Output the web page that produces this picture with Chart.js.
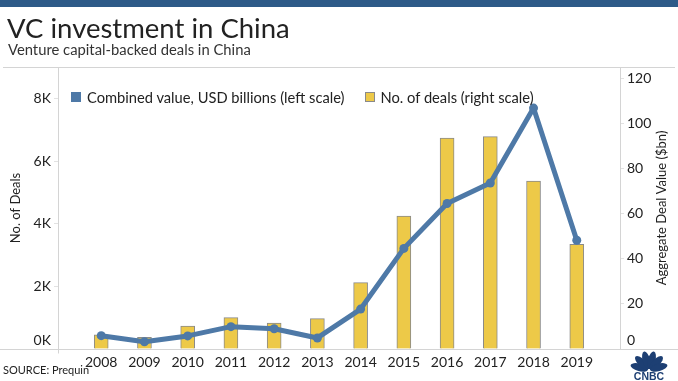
<!DOCTYPE html>
<html>
<head>
<meta charset="utf-8">
<script src="https://cdn.jsdelivr.net/npm/chart.js@4.4.1/dist/chart.umd.min.js"></script>
<style>
  html, body { margin: 0; padding: 0; background: #fff; }
  body { width: 678px; height: 381px; position: relative; overflow: hidden; font-family: Lato, "Open Sans", sans-serif; color: #222; }
  .topbar { position: absolute; left: 0; top: 0; width: 678px; height: 7px; background: #2d5a88; }
  .title { position: absolute; left: 7px; top: 14px; font-size: 27.5px; line-height: 27px; white-space: nowrap; }
  .subtitle { position: absolute; left: 8px; top: 42px; font-size: 14.8px; line-height: 15px; color: #333; white-space: nowrap; }
  .source { position: absolute; left: 3px; top: 364px; font-size: 11px; line-height: 11px; white-space: nowrap; }
  .logo { position: absolute; left: 626px; top: 350px; }
  canvas { position: absolute; left: 0; top: 0; }
  #legend { position: absolute; left: 71px; top: 89px; display: flex; font-size: 14.7px; line-height: 16px; white-space: nowrap; }
  #legend .item { display: flex; align-items: center; margin-right: 20px; }
  #legend .box { width: 10px; height: 10px; margin-right: 6px; box-sizing: border-box; }
</style>
</head>
<body>
<div class="topbar"></div>
<canvas id="chart" width="678" height="381"></canvas>
<div class="title">VC investment in China</div>
<div class="subtitle">Venture capital-backed deals in China</div>
<div id="legend"></div>
<div class="source">SOURCE: Prequin</div>
<svg class="logo" width="46" height="31" viewBox="0 0 46 31">
  <g fill="#1d3f73">
    <ellipse cx="13.3" cy="17.4" rx="3.8" ry="9" transform="rotate(-75 13.3 17.4)"/>
    <ellipse cx="15.9" cy="12.9" rx="3.8" ry="9" transform="rotate(-45 15.9 12.9)"/>
    <ellipse cx="20.4" cy="10.3" rx="3.8" ry="9" transform="rotate(-15 20.4 10.3)"/>
    <ellipse cx="25.6" cy="10.3" rx="3.8" ry="9" transform="rotate(15 25.6 10.3)"/>
    <ellipse cx="30.1" cy="12.9" rx="3.8" ry="9" transform="rotate(45 30.1 12.9)"/>
    <ellipse cx="32.7" cy="17.4" rx="3.8" ry="9" transform="rotate(75 32.7 17.4)"/>
  </g>
  <text x="23" y="30" text-anchor="middle" font-family="'Liberation Sans', Arial, sans-serif" font-weight="bold" font-size="10.5" fill="#1d3f73">CNBC</text>
</svg>
<script>
// values
const years = [2008, 2009, 2010, 2011, 2012, 2013, 2014, 2015, 2016, 2017, 2018, 2019]
const dealCounts = [450, 370, 730, 1000, 830, 970, 2120, 4240, 6730, 6780, 5360, 3340]
const dealValues = [5.9, 3.2, 5.8, 9.9, 9.0, 4.9, 17.7, 44.6, 64.5, 73.6, 106.8, 48.2]
const dealTicks = [0, 2000, 4000, 6000, 8000]
const valueTicks = [0, 20, 40, 60, 80, 100, 120]

const valueName = 'Combined value, USD billions (left scale)'
const dealsName = 'No. of deals (right scale)'
const leftTitle = 'No. of Deals'
const rightTitle = 'Aggregate Deal Value ($bn)'

const lineBlue = '#4e79a7'
const barYellow = '#edc948'
const barEdge = '#8a8a8a'
const textColor = '#222'

// legend as plain html, it sits inside the plot area at the top left
const legendItems = [
  { name: valueName, fill: lineBlue, edge: lineBlue },
  { name: dealsName, fill: barYellow, edge: barEdge }
]
document.getElementById('legend').innerHTML = legendItems.map(it =>
  `<span class="item"><span class="box" style="background:${it.fill};border:1px solid ${it.edge}"></span>${it.name}</span>`
).join('')

// thin frame lines: full width rules at top and bottom of the plot, plus the two axis lines
const frameLines = {
  id: 'frameLines',
  beforeDatasetsDraw(chart) {
    const { ctx, chartArea: a, width } = chart
    const top = Math.round(a.top) + 0.5
    const bottom = Math.round(a.bottom) + 0.5
    const left = Math.round(a.left) + 0.5
    const right = Math.round(a.right) + 0.5
    ctx.save()
    ctx.strokeStyle = '#d4d4d4'
    ctx.lineWidth = 1
    ctx.beginPath()
    ctx.moveTo(3, top); ctx.lineTo(width - 3, top)
    ctx.moveTo(0, bottom); ctx.lineTo(width, bottom)
    ctx.moveTo(left, top); ctx.lineTo(left, bottom + 4)
    ctx.moveTo(right, top); ctx.lineTo(right, bottom)
    ctx.stroke()
    ctx.restore()
  }
}

// right axis title reads bottom to top like the left one
const rightAxisTitle = {
  id: 'rightAxisTitle',
  afterDraw(chart) {
    const { ctx, chartArea: a } = chart
    ctx.save()
    ctx.translate(a.right + 42, (a.top + a.bottom) / 2)
    ctx.rotate(-Math.PI / 2)
    ctx.textAlign = 'center'
    ctx.textBaseline = 'middle'
    ctx.fillStyle = textColor
    ctx.font = '13px Lato, "Open Sans", sans-serif'
    ctx.fillText(rightTitle, 0, 0)
    ctx.restore()
  }
}

const tickFont = { family: 'Lato, "Open Sans", sans-serif', size: 14 }
const titleFont = { family: 'Lato, "Open Sans", sans-serif', size: 13 }

new Chart(document.getElementById('chart'), {
  type: 'bar',
  data: {
    datasets: [
      {
        type: 'line',
        label: valueName,
        data: years.map((y, i) => ({ x: y, y: dealValues[i] })),
        yAxisID: 'yValue',
        borderColor: lineBlue,
        backgroundColor: lineBlue,
        borderWidth: 5,
        borderJoinStyle: 'round',
        borderCapStyle: 'round',
        pointRadius: 4.5,
        pointBorderWidth: 0,
        pointBackgroundColor: lineBlue,
        tension: 0,
        order: 0
      },
      {
        type: 'bar',
        label: dealsName,
        data: years.map((y, i) => ({ x: y, y: dealCounts[i] })),
        yAxisID: 'yDeals',
        backgroundColor: barYellow,
        borderColor: barEdge,
        borderWidth: 1,
        barThickness: 14,
        order: 1
      }
    ]
  },
  options: {
    responsive: false,
    animation: false,
    layout: { padding: { top: 67, left: 0, right: 0, bottom: 0 } },
    plugins: {
      tooltip: { enabled: false },
      legend: { display: false }
    },
    scales: {
      x: {
        type: 'linear',
        min: years[0] - 1,
        max: years[years.length - 1] + 1,
        offset: false,
        grid: { display: false, drawTicks: false },
        border: { display: false },
        ticks: {
          stepSize: 1,
          maxTicksLimit: 20,
          autoSkip: false,
          maxRotation: 0,
          padding: 5,
          color: textColor,
          font: tickFont,
          callback: v => String(v)
        },
        afterBuildTicks: s => { s.ticks = years.map(y => ({ value: y })) },
        afterFit: s => { s.height = 32 }
      },
      yDeals: {
        position: 'left',
        min: 0,
        max: 9000,
        grid: { drawOnChartArea: false, tickLength: 4, color: '#e2e2e2' },
        border: { display: false },
        ticks: {
          padding: 3,
          color: textColor,
          font: tickFont,
          callback: v => v === 0 ? ['0K', ''] : (v / 1000) + 'K'
        },
        afterBuildTicks: s => { s.ticks = dealTicks.map(v => ({ value: v })) },
        title: { display: true, text: leftTitle, color: textColor, font: titleFont, padding: { top: 8, bottom: 0 } },
        afterFit: s => { s.width = 58 }
      },
      yValue: {
        position: 'right',
        min: 0,
        max: 125,
        grid: { drawOnChartArea: false, tickLength: 4, color: '#e2e2e2' },
        border: { display: false },
        ticks: {
          padding: 3,
          color: textColor,
          font: tickFont,
          callback: v => v === 0 ? ['0', ''] : String(v)
        },
        afterBuildTicks: s => { s.ticks = valueTicks.map(v => ({ value: v })) },
        afterFit: s => { s.width = 58 }
      }
    }
  },
  plugins: [frameLines, rightAxisTitle]
})
</script>
</body>
</html>
